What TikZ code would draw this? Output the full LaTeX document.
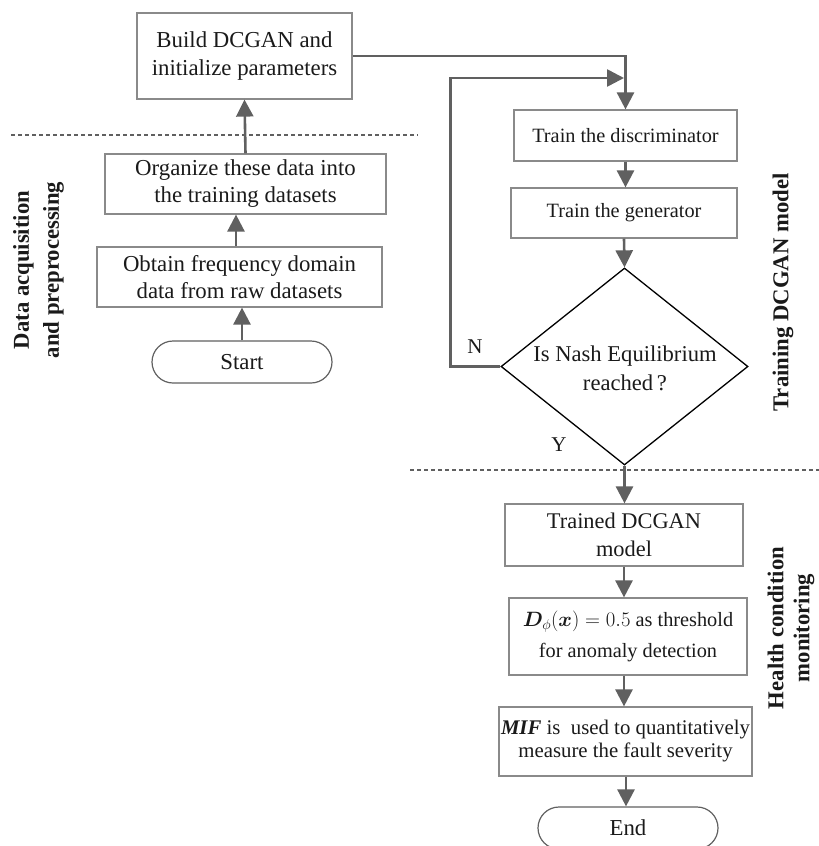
\documentclass[tikz,border=0pt]{standalone}
\usepackage{amsmath,bm}
\usepackage{fontspec}
\setmainfont{Liberation Serif}
\usetikzlibrary{arrows.meta,shapes.geometric}
\definecolor{boxc}{HTML}{8A8A8A}
\definecolor{arrc}{HTML}{606060}
\definecolor{txtc}{HTML}{1A1A1A}
\tikzset{
  stepbox/.style={draw=boxc,line width=1.2pt,text=txtc,align=center,inner sep=0pt},
  termbox/.style={draw=arrc,line width=1.2pt,rounded corners=21pt,text=txtc,align=center,inner sep=0pt,minimum width=180pt,minimum height=42pt},
  conn/.style={draw=arrc,line width=2.6pt,-{Triangle[length=17pt,width=17pt]}},
  sepline/.style={draw=arrc,line width=1.5pt,dash pattern=on 4pt off 3pt},
  biglabel/.style={font=\fontsize{22.7}{30}\selectfont\bfseries,text=txtc,align=center,rotate=90,inner sep=0pt},
  big/.style={font=\fontsize{22.8}{28}\selectfont},
  small/.style={font=\fontsize{20.3}{31}\selectfont},
}
\begin{document}
\begin{tikzpicture}[x=1pt,y=-1pt]
\useasboundingbox (0,0) rectangle (819,846);
\clip (0,0) rectangle (819,846);
% separators
\coordinate (s1a) at (11,135); \coordinate (s1b) at (418,135);
\coordinate (s2a) at (410,470); \coordinate (s2b) at (819,470);
\draw[sepline] (s1a) -- (s1b);
\draw[sepline] (s2a) -- (s2b);
% left column
\node[stepbox,big,minimum width=215pt,minimum height=86pt] (build) at (244.5,56) {Build DCGAN and\\initialize parameters};
\node[stepbox,big,minimum width=281pt,minimum height=60pt,font=\fontsize{22.8}{27}\selectfont] (org) at (245.5,184) {Organize these data into\\the training datasets};
\node[stepbox,big,minimum width=285pt,minimum height=60pt,font=\fontsize{22.8}{27}\selectfont] (obt) at (239.5,277) {Obtain frequency domain\\data from raw datasets};
\node[termbox,big] (start) at (242,362) {Start};
% right column
\node[stepbox,small,minimum width=223pt,minimum height=51pt] (disc) at (625.5,135.5) {Train the discriminator};
\node[stepbox,small,minimum width=226pt,minimum height=50pt] (gen) at (624,213) {Train the generator};
\node[draw=black,line width=1.3pt,shape=diamond,minimum width=247pt,minimum height=197pt,inner sep=0pt] (dia) at (624.5,366.5) {};
\node[text=txtc,align=center,font=\fontsize{22.6}{29}\selectfont] (diat) at (625,368) {Is Nash Equilibrium\\reached\,?};
\node[stepbox,font=\fontsize{22.4}{28}\selectfont,minimum width=238pt,minimum height=62pt] (trained) at (624,535) {Trained DCGAN\\model};
\node[stepbox,small,minimum width=238pt,minimum height=77pt] (thr) at (628,636.5) {$\bm{D}_{\phi}(\bm{x})=0.5$ as threshold\\for anomaly detection};
\node[stepbox,font=\fontsize{20.8}{23}\selectfont,minimum width=253pt,minimum height=69pt] (mif) at (625.5,741.5) {\textbf{\textit{MIF}} is\ \ used to quantitatively\\measure the fault severity};
\node[termbox,big] (end) at (628,828) {End};
% labels
\node[biglabel] (lab1) at (38.5,270) {Data acquisition\\and preprocessing};
\node[biglabel] (lab2) at (783,292.5) {Training DCGAN model};
\node[biglabel,font=\fontsize{22.7}{26}\selectfont\bfseries] (lab3) at (791,628) {Health condition\\monitoring};
\node[text=txtc,font=\fontsize{21}{25}\selectfont] (nlab) at (475,347) {N};
\node[text=txtc,font=\fontsize{21}{25}\selectfont] (ylab) at (559,445) {Y};
% connectors
\draw[conn] (start.north) -- (start.north |- obt.south);
\draw[conn] (obt.north -| 236,0) -- (org.south -| 236,0);
\draw[conn] (org.north) -- (build.south);
\draw[conn] (build.east) -| (disc.north);
\draw[conn] (disc.south) -- (disc.south |- gen.north);
\draw[conn] (gen.south) -- (dia.north);
\coordinate (loopend) at (624,78);
\draw[conn] (dia.west) -- ++(-50,0) |- (loopend);
\draw[conn] (dia.south) -- (dia.south |- trained.north);
\draw[conn] (trained.south) -- (trained.south |- thr.north);
\draw[conn] (thr.south -| 624,0) -- (mif.north -| 624,0);
\draw[conn] (mif.south -| 626,0) -- (end.north -| 626,0);
\end{tikzpicture}
\end{document}
